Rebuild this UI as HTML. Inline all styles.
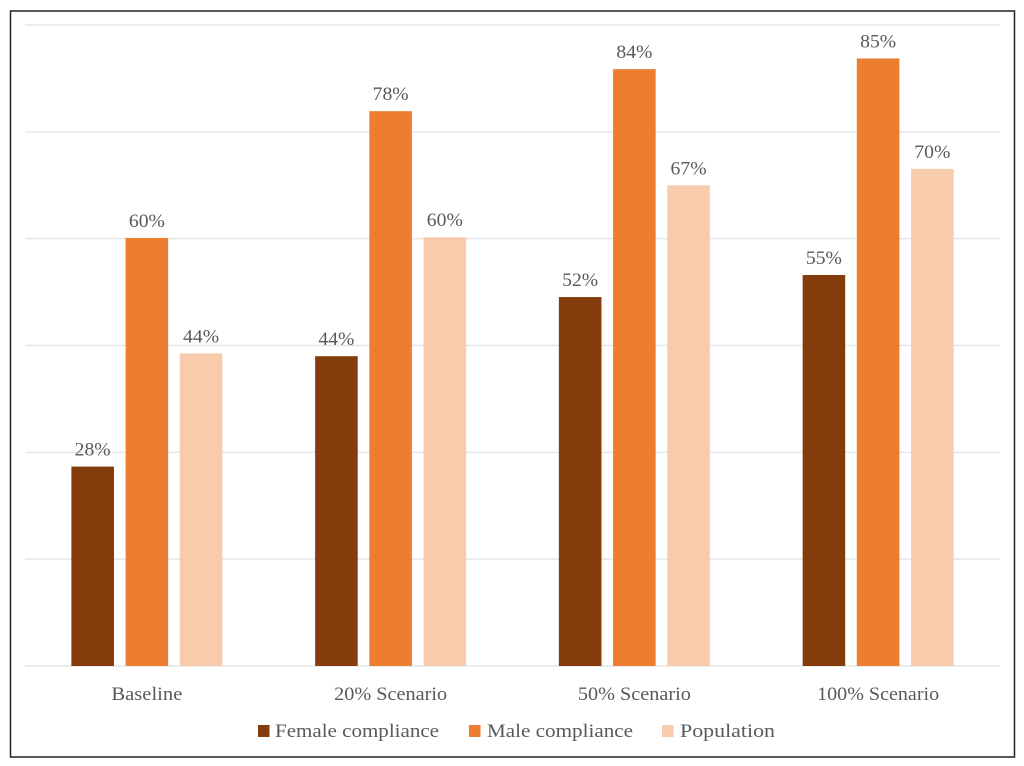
<!DOCTYPE html>
<html>
<head>
<meta charset="utf-8">
<style>
html,body{margin:0;padding:0;background:#fff;width:1024px;height:766px;overflow:hidden}
svg{display:block}
text{font-family:"Liberation Serif",serif;fill:#595959;font-size:19px}
</style>
</head>
<body>
<svg id="chart" width="1024" height="766" viewBox="0 0 1024 766" xmlns="http://www.w3.org/2000/svg">
<rect x="10.5" y="11" width="1004" height="746" fill="#fff" stroke="#222" stroke-width="1.5"/>
<g id="grid"></g>
<g id="bars"></g>
<g id="labels"></g>
<g id="cats"></g>
<g id="legend"></g>
</svg>
<script>
const categories = ['Baseline', '20% Scenario', '50% Scenario', '100% Scenario'];
const seriesNames = ['Female compliance', 'Male compliance', 'Population'];
const femaleValues = [28, 43.5, 51.8, 54.9];
const maleValues = [60.1, 77.9, 83.8, 85.3];
const populationValues = [43.9, 60.2, 67.5, 69.8];
const femaleLabels = ['28%', '44%', '52%', '55%'];
const maleLabels = ['60%', '78%', '84%', '85%'];
const populationLabels = ['44%', '60%', '67%', '70%'];
const gridTicks = [0, 15, 30, 45, 60, 75, 90];

const seriesValues = [femaleValues, maleValues, populationValues];
const seriesLabels = [femaleLabels, maleLabels, populationLabels];
const colors = ['#843c0c', '#ed7d31', '#f8cbad'];
const NS = 'http://www.w3.org/2000/svg';
const plotLeft = 25, plotRight = 1000, plotTop = 25, plotBottom = 666, yMax = 90;
const barWidth = 42.6, barPitch = 54.2;

function yScale(v) { return plotBottom - (v / yMax) * (plotBottom - plotTop); }
function xCenter(i) { return plotLeft + (i + 0.5) * (plotRight - plotLeft) / categories.length; }
function make(tag, attrs, parent, txt) {
  const el = document.createElementNS(NS, tag);
  for (const k in attrs) el.setAttribute(k, attrs[k]);
  if (txt !== undefined) el.textContent = txt;
  parent.appendChild(el);
  return el;
}

const grid = document.getElementById('grid');
gridTicks.forEach(function (t) {
  const line = make('line', { x1: plotLeft, x2: plotRight, y1: yScale(t), y2: yScale(t), stroke: '#e6e6e6', 'stroke-width': 1.5 }, grid);
  
  
});

const bars = document.getElementById('bars');
const labels = document.getElementById('labels');
seriesValues.forEach(function (vals, s) {
  vals.forEach(function (v, i) {
    const cx = xCenter(i) + (s - 1) * barPitch;
    const top = yScale(v);
    const bar = make('rect', { x: cx - barWidth / 2, y: top, width: barWidth, height: plotBottom - top, fill: colors[s] }, bars);
    
    
    const lab = make('text', { x: cx, y: top - 11, 'text-anchor': 'middle', textLength: 36, lengthAdjust: 'spacingAndGlyphs' }, labels, seriesLabels[s][i]);
    
    
  });
});

const cats = document.getElementById('cats');
const catWidths = [71, 113, 113, 122];
categories.forEach(function (c, i) {
  const t = make('text', { x: xCenter(i), y: 700, 'text-anchor': 'middle', textLength: catWidths[i], lengthAdjust: 'spacingAndGlyphs' }, cats, c);
  
  
});

const legend = document.getElementById('legend');
const legendBoxX = [258, 469, 662];
const legendTextX = [275, 487, 680];
const legendTextW = [164, 146, 95];
seriesNames.forEach(function (n, s) {
  const sw = make('rect', { x: legendBoxX[s], y: 725, width: 11.5, height: 12, fill: colors[s] }, legend);
  
  
  const t = make('text', { x: legendTextX[s], y: 737, textLength: legendTextW[s], lengthAdjust: 'spacingAndGlyphs' }, legend, n);
  
  
});
</script>
</body>
</html>
